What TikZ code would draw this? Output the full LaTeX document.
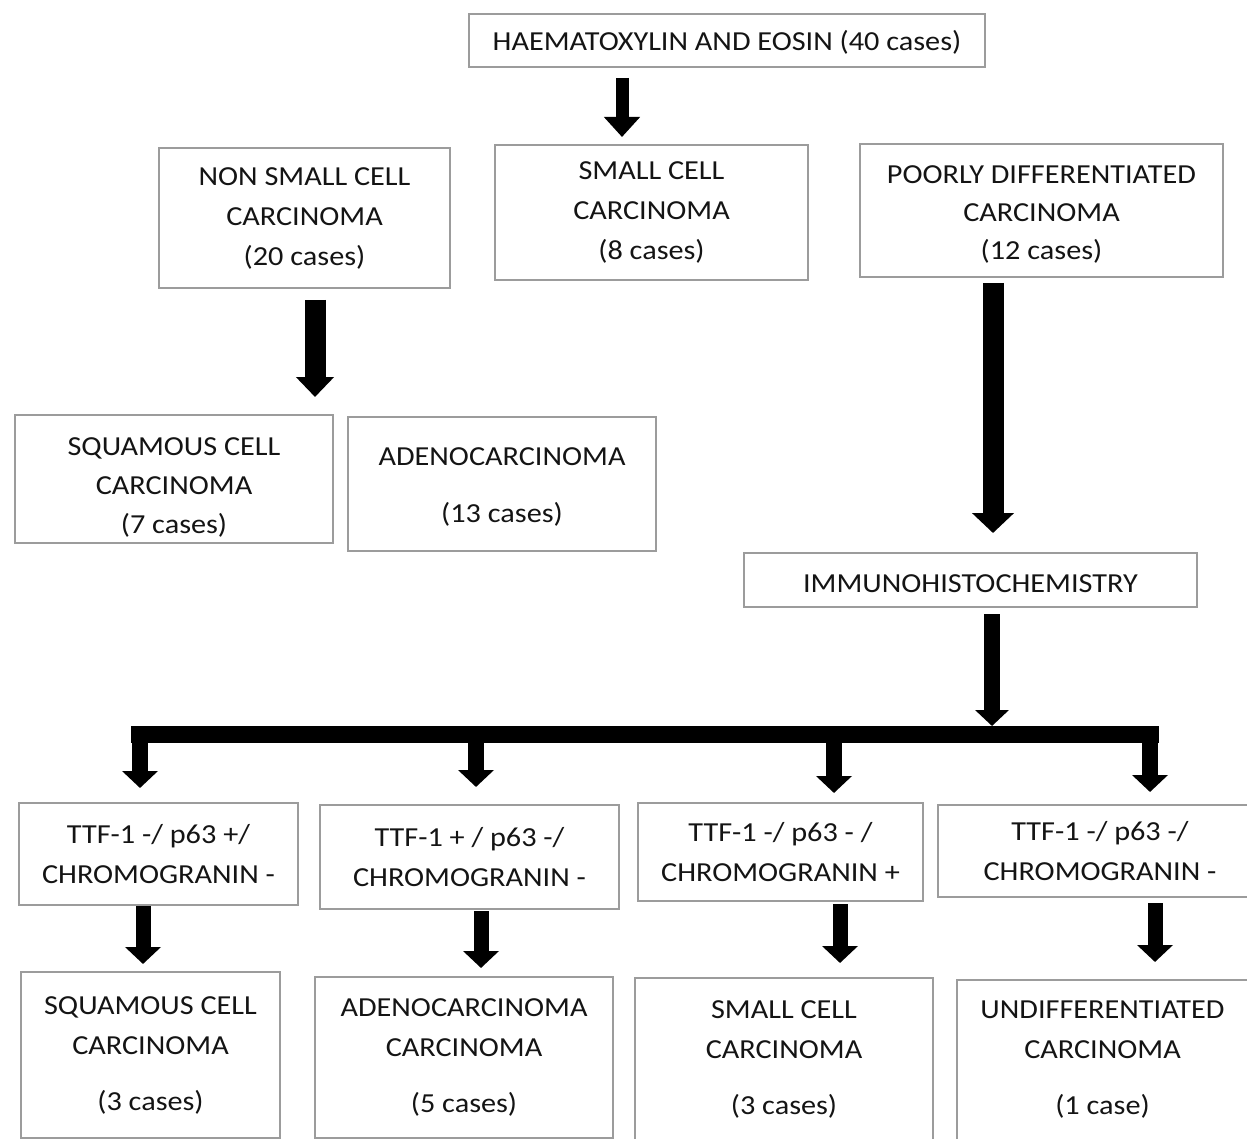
\documentclass[tikz,border=0pt]{standalone}
\usepackage{fontspec}
\setmainfont{Carlito}[FakeStretch=1.1]
\usetikzlibrary{arrows.meta,calc}
\definecolor{boxgray}{HTML}{9C9C9C}
\definecolor{inkgray}{HTML}{141414}
\begin{document}
\begin{tikzpicture}[
        x=1pt, y=-1pt,
        box/.style={
            draw=boxgray, line width=1.3pt, inner sep=0pt, outer sep=0pt,
            align=center, text=inkgray,
            font=\fontsize{27.5}{40}\selectfont
        },
        thickarrow/.style n args={3}{
            line width=#1, -{Triangle[width=#2, length=#3]}
        }
    ]
    \useasboundingbox (0,0) rectangle (1247,1139);

    % boxes
    \node[box, minimum width=516pt, minimum height=53pt] (HE) at (727, 40.5) {\rule{0pt}{24pt}HAEMATOXYLIN AND EOSIN (40 cases)};
    \node[box, minimum width=291pt, minimum height=140pt] (NSCLC) at (304.5, 218) {NON SMALL CELL\\CARCINOMA\\(20 cases)};
    \node[box, minimum width=313pt, minimum height=135pt] (SCLC) at (651.5, 212.5) {SMALL CELL\\CARCINOMA\\(8 cases)};
    \node[box, minimum width=363pt, minimum height=133pt] (PDC) at (1041.5, 210.5) {\rule{0pt}{26pt}POORLY DIFFERENTIATED\\[-2pt]CARCINOMA\\[-2pt](12 cases)};
    \node[box, minimum width=318pt, minimum height=128pt] (SQ) at (174, 479) {\rule{0pt}{34pt}SQUAMOUS CELL\\[-1pt]CARCINOMA\\[-1pt](7 cases)};
    \node[box, minimum width=308pt, minimum height=134pt] (ADENO) at (502, 484) {\rule{0pt}{24pt}ADENOCARCINOMA\\[17pt](13 cases)};
    \node[box, minimum width=453pt, minimum height=54pt] (IHC) at (970.5, 580) {\rule{0pt}{26pt}IMMUNOHISTOCHEMISTRY};

    \node[box, minimum width=279pt, minimum height=102pt] (T1) at (158.5, 854) {TTF-1 -/ p63 +/\\CHROMOGRANIN -};
    \node[box, minimum width=299pt, minimum height=104pt] (T2) at (469.5, 857) {TTF-1 + / p63 -/\\CHROMOGRANIN -};
    \node[box, minimum width=285pt, minimum height=98pt] (T3) at (780.5, 852) {TTF-1 -/ p63 - /\\CHROMOGRANIN +};
    \node[box, minimum width=324pt, minimum height=92pt] (T4) at (1100, 851) {TTF-1 -/ p63 -/\\CHROMOGRANIN -};

    \node[box, minimum width=259pt, minimum height=166pt] (R1) at (150.5, 1055) {SQUAMOUS CELL\\CARCINOMA\\[16pt](3 cases)};
    \node[box, minimum width=298pt, minimum height=161pt] (R2) at (464, 1057.5) {ADENOCARCINOMA\\CARCINOMA\\[16pt](5 cases)};
    \node[box, minimum width=298pt, minimum height=162pt] (R3) at (784, 1059) {SMALL CELL\\CARCINOMA\\[16pt](3 cases)};
    \node[box, minimum width=291pt, minimum height=160pt] (R4) at (1102.5, 1060) {UNDIFFERENTIATED\\CARCINOMA\\[16pt](1 case)};

    % arrows
    \draw[thickarrow={13pt}{35pt}{20pt}] ($(HE.south)+(-105,11)$) -- ($(SCLC.north)+(-29.5,-8)$);
    \draw[thickarrow={21pt}{37pt}{20pt}] ($(NSCLC.south)+(10.5,12)$) -- ($(SQ.north)+(141,-18)$);
    \draw[thickarrow={21pt}{41pt}{20pt}] ($(PDC.south)+(-48.5,6)$) -- ($(IHC.north)+(22.5,-20)$);

    % bar
    \coordinate (barL) at (131, 734.5);
    \coordinate (barR) at (1159, 734.5);
    \coordinate (bar) at (992, 726);
    \draw[line width=17pt] (barL) -- (barR);
    \draw[thickarrow={16pt}{33pt}{16pt}] ($(IHC.south)+(21.5,7)$) -- (bar);

    \coordinate (t1) at ($(T1.north)+(-18.5,-15)$);
    \coordinate (t2) at ($(T2.north)+(6.5,-18)$);
    \coordinate (t3) at ($(T3.north)+(53.5,-10)$);
    \coordinate (t4) at ($(T4.north)+(50,-13)$);
    \foreach \t in {t1,t2,t3,t4}
        \draw[thickarrow={16pt}{35pt}{17pt}] (\t |- barL) -- (\t);

    \draw[thickarrow={15pt}{35pt}{17pt}] ($(T1.south)+(-15.5,1)$) -- ($(R1.north)+(-7.5,-8)$);
    \draw[thickarrow={15pt}{35pt}{17pt}] ($(T2.south)+(11.5,2)$) -- ($(R2.north)+(17,-9)$);
    \draw[thickarrow={15pt}{35pt}{17pt}] ($(T3.south)+(59.5,3)$) -- ($(R3.north)+(56,-15)$);
    \draw[thickarrow={15pt}{35pt}{17pt}] ($(T4.south)+(55,6)$) -- ($(R4.north)+(52.5,-18)$);
\end{tikzpicture}
\end{document}
